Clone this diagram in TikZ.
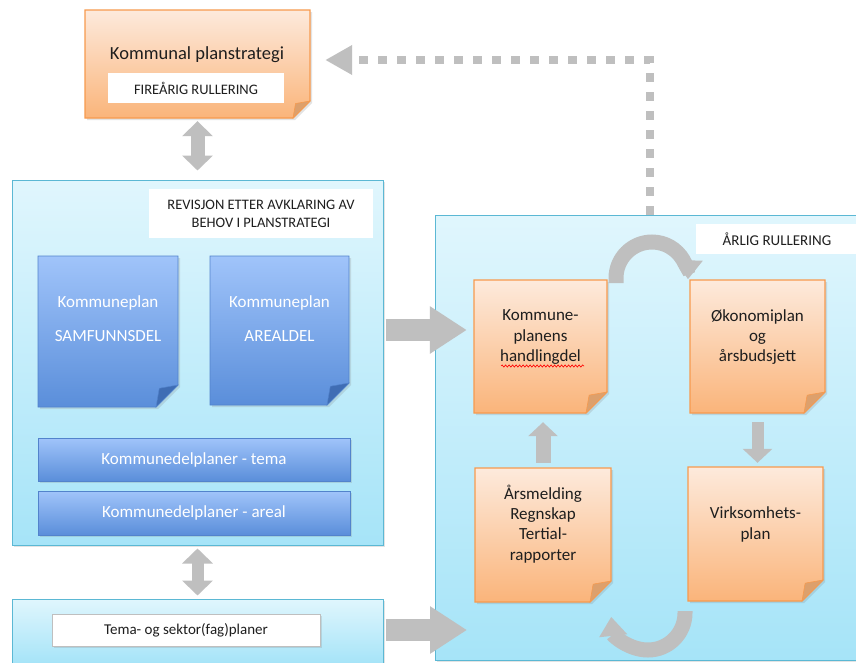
\documentclass[tikz,border=0pt]{standalone}
\usepackage{fontspec}
\setmainfont{Carlito}
\usetikzlibrary{arrows.meta,calc,shadows,decorations.pathmorphing}
\definecolor{cbord}{HTML}{5BB8D4}
\definecolor{ctop}{HTML}{E0F6FD}
\definecolor{cbot}{HTML}{A6E4F8}
\definecolor{otop}{HTML}{FDEADC}
\definecolor{obot}{HTML}{FAB47A}
\definecolor{obord}{HTML}{F79A4E}
\definecolor{ofold}{HTML}{DDA06C}
\definecolor{btop}{HTML}{A0C4FA}
\definecolor{bbot}{HTML}{5A8EDA}
\definecolor{bbord}{HTML}{5283CC}
\definecolor{bfold}{HTML}{3F6DB4}
\definecolor{agray}{HTML}{BFBFBF}
\definecolor{txt}{HTML}{1E1E1E}
\newcommand\foldbox[8]{%
  \path[#7] (#2,-#3) -- (#4,-#3) -- (#4,{-#5+#6}) -- ({#4-#6},-#5) -- (#2,-#5) -- cycle;
  \filldraw[#8] (#4,{-#5+#6}) -- ({#4-#6},-#5) -- ({#4-0.85*#6},{-#5+0.85*#6}) -- cycle;
  \node[inner sep=0, minimum width={#4-#2}, minimum height={#5-#3}] (#1) at ({(#2+#4)/2},{-(#3+#5)/2}) {};
}
\tikzset{
  myshadow/.style={drop shadow={opacity=0.22, shadow xshift=2pt, shadow yshift=-2pt}},
  cont/.style={rectangle, inner sep=0, top color=ctop, bottom color=cbot, draw=cbord, line width=1pt, myshadow},
  oshape/.style={top color=otop, bottom color=obot, draw=obord, line width=1.3pt, myshadow},
  ofoldc/.style={fill=ofold, draw=obord, line width=0.6pt},
  bshape/.style={top color=btop, bottom color=bbot, draw=bbord, line width=0.8pt, myshadow},
  bfoldc/.style={fill=bfold, draw=bbord, line width=0.5pt},
  bbar/.style={rectangle, inner sep=0, bshape, text=white, font=\fontsize{17}{20}\selectfont},
  otext/.style={align=center, inner sep=0, text=txt, font=\fontsize{17}{20.3}\selectfont},
  btext/.style={align=center, inner sep=0, text=white, font=\fontsize{17}{34}\selectfont},
  lbl/.style={rectangle, inner sep=0, fill=white, text=txt, align=center, font=\fontsize{14.5}{18}\selectfont},
  darrow/.style={draw=agray, line width=#1, {Triangle[width=30pt,length=15pt]}-{Triangle[width=30pt,length=15pt]}},
  varrow/.style={draw=agray, line width=#1, -{Triangle[width=29pt,length=14pt]}},
  bigarrow/.style={draw=agray, line width=22pt, -{Triangle[width=45pt,length=37pt]}},
  carrow/.style={draw=agray, line width=15pt, -{Triangle[width=27pt,length=19pt]}},
  dotarrow/.style={draw=agray, line width=8.5pt, dash pattern=on 8.5pt off 10.5pt, -{Triangle[width=28pt,length=27pt]}},
}
\begin{document}
\begin{tikzpicture}[x=1pt,y=1pt]
\useasboundingbox (0,0) rectangle (856,-662);
\clip (0,0) rectangle (856,-662);
\fill[white] (0,0) rectangle (856,-662);

% containers
\node[cont, minimum width=371, minimum height=365] (leftbox) at (197.5,-362.5) {};
\node[cont, minimum width=371, minimum height=64] (bottombox) at (197.5,-631) {};
\node[cont, minimum width=428, minimum height=445] (rightbox) at (649,-437.5) {};

% Kommunal planstrategi
\foldbox{plan}{85}{10}{310}{118}{17}{oshape}{ofoldc}
\node[otext, font=\fontsize{18.5}{22}\selectfont] (plan-t) at (197,-55) {Kommunal planstrategi};
\node[lbl, minimum width=176, minimum height=30] (planlbl) at (196,-88) {FIREÅRIG RULLERING};

% left container content
\node[lbl, minimum width=224, minimum height=49] (revlbl) at (261,-213.5) {REVISJON ETTER AVKLARING AV\\BEHOV I PLANSTRATEGI};
\foldbox{samf}{38}{256}{178}{407}{22}{bshape}{bfoldc}
\node[btext] (samf-t) at (108,-319) {Kommuneplan\\SAMFUNNSDEL};
\foldbox{areal}{210}{256}{349}{405}{22}{bshape}{bfoldc}
\node[btext] (areal-t) at (279.5,-319) {Kommuneplan\\AREALDEL};
\node[bbar, minimum width=312, minimum height=43] (tema) at (194,-459.5) {Kommunedelplaner - tema};
\node[bbar, minimum width=312, minimum height=44] (arealbar) at (194,-513) {Kommunedelplaner - areal};

% bottom container content
\node[lbl, draw=black!25, line width=0.6pt, minimum width=268, minimum height=32, myshadow, font=\fontsize{15}{18}\selectfont] (sektor) at (186,-630) {Tema- og sektor(fag)planer};

% right container content
\node[lbl, minimum width=162, minimum height=30, font=\fontsize{15}{18}\selectfont] (arlbl) at (777,-239) {ÅRLIG RULLERING};
\foldbox{hd}{474}{280}{607}{413}{21}{oshape}{ofoldc}
\node[otext] (hd-t) at (540.5,-337) {Kommune-\\planens\\handlingdel};
\draw[red, line width=0.6pt, decorate, decoration={snake, amplitude=1.1pt, segment length=3.5pt}] (501,-366) -- (584,-366);
\foldbox{ok}{690}{280}{825}{413}{21}{oshape}{ofoldc}
\node[otext] (ok-t) at (757.5,-337) {Økonomiplan\\og\\årsbudsjett};
\foldbox{ars}{475}{468}{611}{602}{21}{oshape}{ofoldc}
\node[otext] (ars-t) at (543,-524) {Årsmelding\\Regnskap\\Tertial-\\rapporter};
\foldbox{virk}{688}{467}{823}{601}{21}{oshape}{ofoldc}
\node[otext] (virk-t) at (755.5,-524.5) {Virksomhets-\\plan};

% connectors
\draw[darrow=14pt, shorten <=3pt, shorten >=9pt] (plan.south) -- (leftbox.north);
\draw[darrow=12pt, shorten <=3pt, shorten >=3pt] (leftbox.south) -- (bottombox.north);
\draw[bigarrow, shorten <=2pt, shorten >=7pt] (leftbox.east |- 0,-330) -- (hd.west |- 0,-330);
\coordinate (sekend) at (467,-630);
\draw[bigarrow, shorten <=2pt] (bottombox.east |- sekend) -- (sekend);
\draw[varrow=15pt, shorten <=5pt, shorten >=9pt] (ars.north) -- (ars.north |- hd.south);
\draw[varrow=12pt, shorten <=9pt, shorten >=4pt] (ok.south) -- (ok.south |- virk.north);
\coordinate (ctopstart) at (616,-283);
\draw[carrow] (ctopstart) -- (616,-278) arc[start angle=180, end angle=-2, radius=36];
\coordinate (cbotstart) at (685,-611);
\draw[carrow] (cbotstart) -- (685,-613) arc[start angle=0, end angle=-174, radius=37];
\draw[dotarrow, shorten >=15pt] ($(rightbox.north)+(1,0)$) -- (650,-60) -- (plan.east |- 0,-60);
\end{tikzpicture}
\end{document}
